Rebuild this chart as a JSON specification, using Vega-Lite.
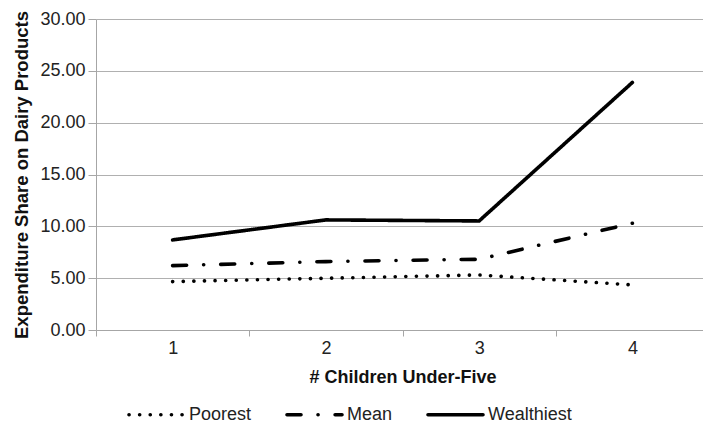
{
  "$schema": "https://vega.github.io/schema/vega-lite/v6.json",
  "width": 607,
  "height": 311,
  "autosize": {"type": "none"},
  "padding": {"left": 96, "top": 19, "right": 0, "bottom": 96},
  "background": "white",
  "config": {"view": {"stroke": null}, "font": "Liberation Sans"},
  "data": {
    "values": [
      {"children": "1", "series": "Poorest", "share": 4.67},
      {"children": "2", "series": "Poorest", "share": 4.99},
      {"children": "3", "series": "Poorest", "share": 5.31},
      {"children": "4", "series": "Poorest", "share": 4.35},
      {"children": "1", "series": "Mean", "share": 6.21},
      {"children": "2", "series": "Mean", "share": 6.6},
      {"children": "3", "series": "Mean", "share": 6.82},
      {"children": "4", "series": "Mean", "share": 10.3},
      {"children": "1", "series": "Wealthiest", "share": 8.69},
      {"children": "2", "series": "Wealthiest", "share": 10.62},
      {"children": "3", "series": "Wealthiest", "share": 10.52},
      {"children": "4", "series": "Wealthiest", "share": 23.88}
    ]
  },
  "mark": {"type": "line", "strokeCap": "round", "strokeJoin": "round", "color": "black"},
  "encoding": {
    "x": {
      "field": "children",
      "type": "ordinal",
      "scale": {"type": "band", "range": [0, 613], "paddingInner": 0, "paddingOuter": 0},
      "axis": {
        "title": "# Children Under-Five",
        "labelAngle": 0,
        "tickBand": "extent",
        "domainColor": "#a6a6a6",
        "tickColor": "#a6a6a6",
        "tickSize": 6,
        "labelFontSize": 18,
        "labelPadding": 3,
        "labelColor": "#222222",
        "titleFontSize": 18,
        "titleFontWeight": "bold",
        "titleColor": "#111111",
        "titlePadding": 11,
        "grid": false
      }
    },
    "y": {
      "field": "share",
      "type": "quantitative",
      "scale": {"domain": [0, 30]},
      "axis": {
        "title": "Expenditure Share on Dairy Products",
        "values": [0, 5, 10, 15, 20, 25, 30],
        "format": ".2f",
        "grid": true,
        "gridColor": "#b0b0b0",
        "domainColor": "#a6a6a6",
        "tickColor": "#a6a6a6",
        "tickSize": 8,
        "labelPadding": 3,
        "labelFontSize": 18,
        "labelColor": "#222222",
        "titleFontSize": 18.5,
        "titleFontWeight": "bold",
        "titleColor": "#111111",
        "titlePadding": 8
      }
    },
    "strokeDash": {
      "field": "series",
      "type": "nominal",
      "scale": {
        "domain": ["Poorest", "Mean", "Wealthiest"],
        "range": [[0.1, 10.5], [14, 17, 0.1, 17], [1, 0]]
      },
      "legend": {
        "title": null,
        "orient": "none",
        "direction": "horizontal",
        "legendX": 31,
        "legendY": 366,
        "symbolType": "stroke",
        "symbolSize": 3025,
        "symbolStrokeWidth": 3.5,
        "symbolStrokeColor": "black",
        "labelFontSize": 18,
        "labelColor": "#222222",
        "labelOffset": 3,
        "columnPadding": 27,
        "encode": {"symbols": {"update": {"strokeCap": {"value": "round"}}}}
      }
    },
    "strokeWidth": {
      "field": "series",
      "type": "ordinal",
      "scale": {"domain": ["Poorest", "Mean", "Wealthiest"], "range": [3.6, 3.6, 4]},
      "legend": null
    }
  }
}
